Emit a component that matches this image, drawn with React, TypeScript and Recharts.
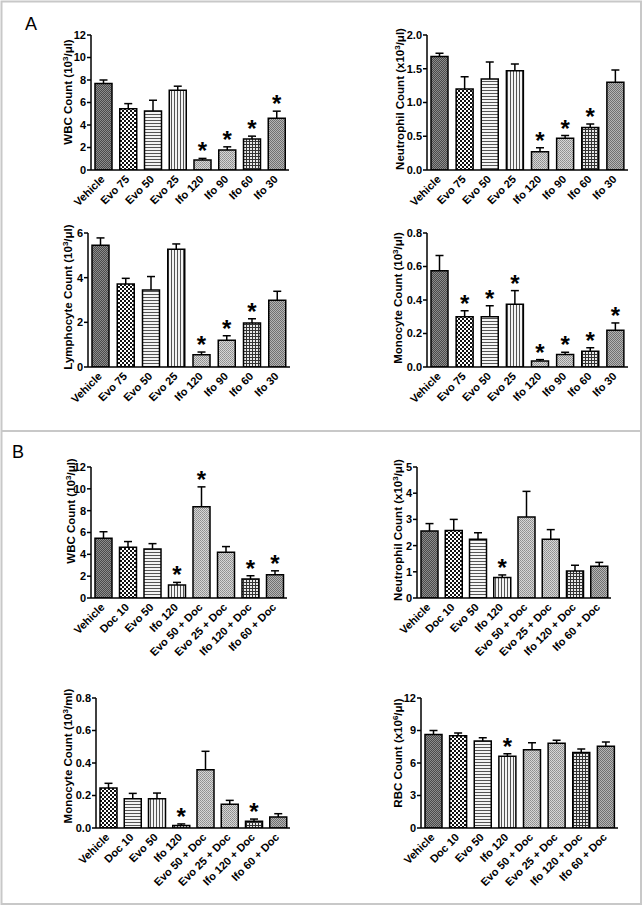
import React from 'react';
import { BarChart, Bar, XAxis, YAxis, Cell } from 'recharts';

const FONT = '"Liberation Sans", Arial, Helvetica, sans-serif';

// ---------- categories ----------
const catsA = ['Vehicle', 'Evo 75', 'Evo 50', 'Evo 25', 'Ifo 120', 'Ifo 90', 'Ifo 60', 'Ifo 30'];
const catsB = ['Vehicle', 'Doc 10', 'Evo 50', 'Ifo 120', 'Evo 50 + Doc', 'Evo 25 + Doc', 'Ifo 120 + Doc', 'Ifo 60 + Doc'];

// ---------- panel A ----------
const wbcAMean = [7.7, 5.45, 5.25, 7.1, 0.88, 1.78, 2.75, 4.6];
const wbcASem = [0.3, 0.45, 0.95, 0.35, 0.15, 0.28, 0.26, 0.63];
const wbcASig = [0, 0, 0, 0, 1, 1, 1, 1];

const neuAMean = [1.68, 1.2, 1.35, 1.47, 0.27, 0.47, 0.63, 1.3];
const neuASem = [0.05, 0.18, 0.25, 0.1, 0.06, 0.04, 0.05, 0.18];
const neuASig = [0, 0, 0, 0, 1, 1, 1, 0];

const lymAMean = [5.45, 3.72, 3.45, 5.27, 0.55, 1.2, 1.97, 2.99];
const lymASem = [0.33, 0.25, 0.6, 0.24, 0.12, 0.2, 0.19, 0.4];
const lymASig = [0, 0, 0, 0, 1, 1, 1, 0];

const monAMean = [0.575, 0.3, 0.3, 0.374, 0.036, 0.074, 0.094, 0.219];
const monASem = [0.09, 0.036, 0.066, 0.082, 0.008, 0.014, 0.021, 0.044];
const monASig = [0, 1, 1, 1, 1, 1, 1, 1];

// ---------- panel B ----------
const wbcBMean = [5.47, 4.65, 4.5, 1.19, 8.36, 4.19, 1.73, 2.13];
const wbcBSem = [0.6, 0.52, 0.48, 0.24, 1.82, 0.52, 0.31, 0.36];
const wbcBSig = [0, 0, 0, 1, 1, 0, 1, 1];

const neuBMean = [2.56, 2.58, 2.24, 0.78, 3.09, 2.24, 1.03, 1.21];
const neuBSem = [0.28, 0.42, 0.25, 0.1, 0.98, 0.37, 0.22, 0.15];
const neuBSig = [0, 0, 0, 1, 0, 0, 0, 0];

const monBMean = [0.246, 0.18, 0.18, 0.016, 0.359, 0.146, 0.041, 0.068];
const monBSem = [0.029, 0.033, 0.035, 0.009, 0.113, 0.024, 0.014, 0.02];
const monBSig = [0, 0, 0, 1, 0, 0, 1, 0];

const rbcBMean = [8.62, 8.52, 8.03, 6.62, 7.23, 7.82, 6.98, 7.54];
const rbcBSem = [0.38, 0.25, 0.31, 0.24, 0.65, 0.28, 0.31, 0.4];
const rbcBSig = [0, 0, 0, 1, 0, 0, 0, 0];

// ---------- tick values ----------
const ticks12 = [0, 2, 4, 6, 8, 10, 12];
const ticks2 = [0, 0.5, 1.0, 1.5, 2.0];
const ticks6 = [0, 2, 4, 6];
const ticks08 = [0, 0.2, 0.4, 0.6, 0.8];
const ticks5 = [0, 1, 2, 3, 4, 5];
const ticksRbc = [0, 3, 6, 9, 12];

// ---------- styles (fills) ----------
const fillsStd = ['dark', 'check', 'hlines', 'vlines', 'light', 'light', 'grid', 'medium'];
const fillsB3 = ['check', 'hlines', 'vlines', 'grid', 'light', 'light', 'grid', 'medium'];

type Layout = { left: number; top: number; right: number; bottom: number; tx: number; ty: number };

type PanelDef = {
  cats: string[];
  mean: number[];
  sem: number[];
  sig: number[];
  ticks: number[];
  dec: number;
  title: [string, string, string];
  fills: string[];
  L: Layout;
};

const panels: PanelDef[] = [
  { cats: catsA, mean: wbcAMean, sem: wbcASem, sig: wbcASig, ticks: ticks12, dec: 0,
    title: ['WBC Count (10', '3', '/\u03bcl)'], fills: fillsStd,
    L: { left: 91, top: 35, right: 289, bottom: 170, tx: 72, ty: 92 } },
  { cats: catsA, mean: neuAMean, sem: neuASem, sig: neuASig, ticks: ticks2, dec: 1,
    title: ['Neutrophil Count (x10', '3', '/\u03bcl)'], fills: fillsStd,
    L: { left: 427, top: 35, right: 628, bottom: 170, tx: 404, ty: 99 } },
  { cats: catsA, mean: lymAMean, sem: lymASem, sig: lymASig, ticks: ticks6, dec: 0,
    title: ['Lymphocyte Count (10', '3', '/\u03bcl)'], fills: fillsStd,
    L: { left: 88, top: 233, right: 290, bottom: 367, tx: 72, ty: 297 } },
  { cats: catsA, mean: monAMean, sem: monASem, sig: monASig, ticks: ticks08, dec: 1,
    title: ['Monocyte Count (10', '3', '/\u03bcl)'], fills: fillsStd,
    L: { left: 427, top: 233, right: 628, bottom: 367, tx: 402, ty: 298 } },
  { cats: catsB, mean: wbcBMean, sem: wbcBSem, sig: wbcBSig, ticks: ticks12, dec: 0,
    title: ['WBC Count (10', '3', '/\u03bcl)'], fills: fillsStd,
    L: { left: 91, top: 467, right: 287, bottom: 598, tx: 75, ty: 511 } },
  { cats: catsB, mean: neuBMean, sem: neuBSem, sig: neuBSig, ticks: ticks5, dec: 0,
    title: ['Neutrophil Count (x10', '3', '/\u03bcl)'], fills: fillsStd,
    L: { left: 417, top: 467, right: 611, bottom: 598, tx: 402, ty: 530 } },
  { cats: catsB, mean: monBMean, sem: monBSem, sig: monBSig, ticks: ticks08, dec: 1,
    title: ['Monocyte Count (10', '3', '/ml)'], fills: fillsB3,
    L: { left: 96, top: 698, right: 290, bottom: 828, tx: 72, ty: 756 } },
  { cats: catsB, mean: rbcBMean, sem: rbcBSem, sig: rbcBSig, ticks: ticksRbc, dec: 0,
    title: ['RBC Count (x10', '6', '/\u03bcl)'], fills: fillsStd,
    L: { left: 421, top: 698, right: 618, bottom: 828, tx: 402, ty: 753 } },
];

const W = 643;
const H = 906;
const XH = 30;

const XTick = (props: any) => {
  const { x, y, payload } = props;
  return (
    <text
      transform={`translate(${x + 2},${y + 10}) rotate(-45)`}
      textAnchor="end"
      fontSize={11}
      fontWeight={700}
      fontFamily={FONT}
      fill="#000"
    >
      {payload.value}
    </text>
  );
};

const ErrShape = (props: any) => {
  const { x, y, width, height, payload } = props;
  if (x == null || y == null) return null;
  const cx = x + width / 2;
  return (
    <g>
      <line x1={cx} y1={y + height} x2={cx} y2={y} stroke="#000" strokeWidth={1.5} />
      <line x1={cx - 4} y1={y} x2={cx + 4} y2={y} stroke="#000" strokeWidth={1.5} />
      {payload && payload.sig ? (
        <text x={cx} y={y + 1} textAnchor="middle" fontSize={24} fontWeight={700} fontFamily={FONT} fill="#000">
          *
        </text>
      ) : null}
    </g>
  );
};

const Panel = ({ p }: { p: PanelDef }) => {
  const rows = p.cats.map((c, i) => ({ name: c, mean: p.mean[i], sem: p.sem[i], sig: p.sig[i] }));
  const L = p.L;
  const top = p.ticks[p.ticks.length - 1];
  const titleContent = () => (
    <text
      transform={`translate(${L.tx},${L.ty}) rotate(-90)`}
      textAnchor="middle"
      fontSize={11.5}
      fontWeight={700}
      fontFamily={FONT}
      fill="#000"
    >
      {p.title[0]}
      <tspan dy={-4} fontSize={8}>{p.title[1]}</tspan>
      <tspan dy={4}>{p.title[2]}</tspan>
    </text>
  );
  return (
    <div style={{ position: 'absolute', left: 0, top: 0 }}>
      <BarChart
        width={W}
        height={H}
        data={rows}
        margin={{ top: L.top, right: W - L.right, bottom: H - L.bottom - XH, left: 0 }}
        barSize={17}
      >
        <XAxis
          dataKey="name"
          height={XH}
          interval={0}
          tickLine={false}
          tickSize={0}
          tickMargin={0}
          axisLine={{ stroke: '#000', strokeWidth: 1.5 }}
          tick={<XTick />}
        />
        <YAxis
          width={L.left}
          domain={[0, top]}
          ticks={p.ticks}
          allowDataOverflow
          interval={0}
          tickFormatter={(v: number) => v.toFixed(p.dec)}
          tick={{ fontSize: 11, fontWeight: 700, fill: '#000', fontFamily: FONT }}
          tickSize={4}
          tickMargin={1}
          axisLine={{ stroke: '#000', strokeWidth: 1.5 }}
          tickLine={{ stroke: '#000', strokeWidth: 1.5 }}
          label={{ content: titleContent }}
        />
        <Bar dataKey="mean" stackId="s" isAnimationActive={false} stroke="#000" strokeWidth={1.5}>
          {rows.map((r, i) => (
            <Cell key={r.name} fill={`url(#pat-${p.fills[i]})`} />
          ))}
        </Bar>
        <Bar dataKey="sem" stackId="s" isAnimationActive={false} fill="none" shape={ErrShape} />
      </BarChart>
    </div>
  );
};

export default function App() {
  return (
    <div style={{ position: 'absolute', left: 0, top: 0, width: W, height: H, background: '#fff', overflow: 'hidden' }}>
      <svg width={W} height={H} style={{ position: 'absolute', left: 0, top: 0 }}>
        <defs>
          <pattern id="pat-dark" width={2} height={2} patternUnits="userSpaceOnUse">
            <rect width={2} height={2} fill="#4a4a4a" />
            <rect x={0} y={0} width={1} height={1} fill="#8c8c8c" />
            <rect x={1} y={1} width={1} height={1} fill="#8c8c8c" />
          </pattern>
          <pattern id="pat-check" width={4} height={4} patternUnits="userSpaceOnUse">
            <rect width={4} height={4} fill="#fff" />
            <rect x={0} y={0} width={2} height={2} fill="#111" />
            <rect x={2} y={2} width={2} height={2} fill="#111" />
          </pattern>
          <pattern id="pat-hlines" width={3} height={3} patternUnits="userSpaceOnUse">
            <rect width={3} height={3} fill="#f4f4f4" />
            <rect x={0} y={0} width={3} height={1} fill="#555" />
          </pattern>
          <pattern id="pat-vlines" width={3} height={3} patternUnits="userSpaceOnUse">
            <rect width={3} height={3} fill="#f4f4f4" />
            <rect x={0} y={0} width={1} height={3} fill="#555" />
          </pattern>
          <pattern id="pat-light" width={2} height={2} patternUnits="userSpaceOnUse">
            <rect width={2} height={2} fill="#d6d6d6" />
            <rect x={0} y={0} width={1} height={1} fill="#8e8e8e" />
            <rect x={1} y={1} width={1} height={1} fill="#9a9a9a" />
          </pattern>
          <pattern id="pat-grid" width={3} height={3} patternUnits="userSpaceOnUse">
            <rect width={3} height={3} fill="#e8e8e8" />
            <rect x={0} y={0} width={3} height={1} fill="#333" />
            <rect x={0} y={0} width={1} height={3} fill="#333" />
          </pattern>
          <pattern id="pat-medium" width={2} height={2} patternUnits="userSpaceOnUse">
            <rect width={2} height={2} fill="#b4b4b4" />
            <rect x={0} y={0} width={1} height={1} fill="#707070" />
            <rect x={1} y={1} width={1} height={1} fill="#707070" />
          </pattern>
        </defs>
        <rect x={1.5} y={1.5} width={639.5} height={902.5} fill="none" stroke="#c8c8c8" strokeWidth={2} />
        <line x1={1.5} y1={431} x2={641} y2={431} stroke="#c8c8c8" strokeWidth={2} />
        <text x={25} y={30} fontSize={18} fontFamily={FONT} fill="#000">A</text>
        <text x={12} y={458} fontSize={18} fontFamily={FONT} fill="#000">B</text>
      </svg>
      {panels.map((p, i) => (
        <Panel key={i} p={p} />
      ))}
    </div>
  );
}
